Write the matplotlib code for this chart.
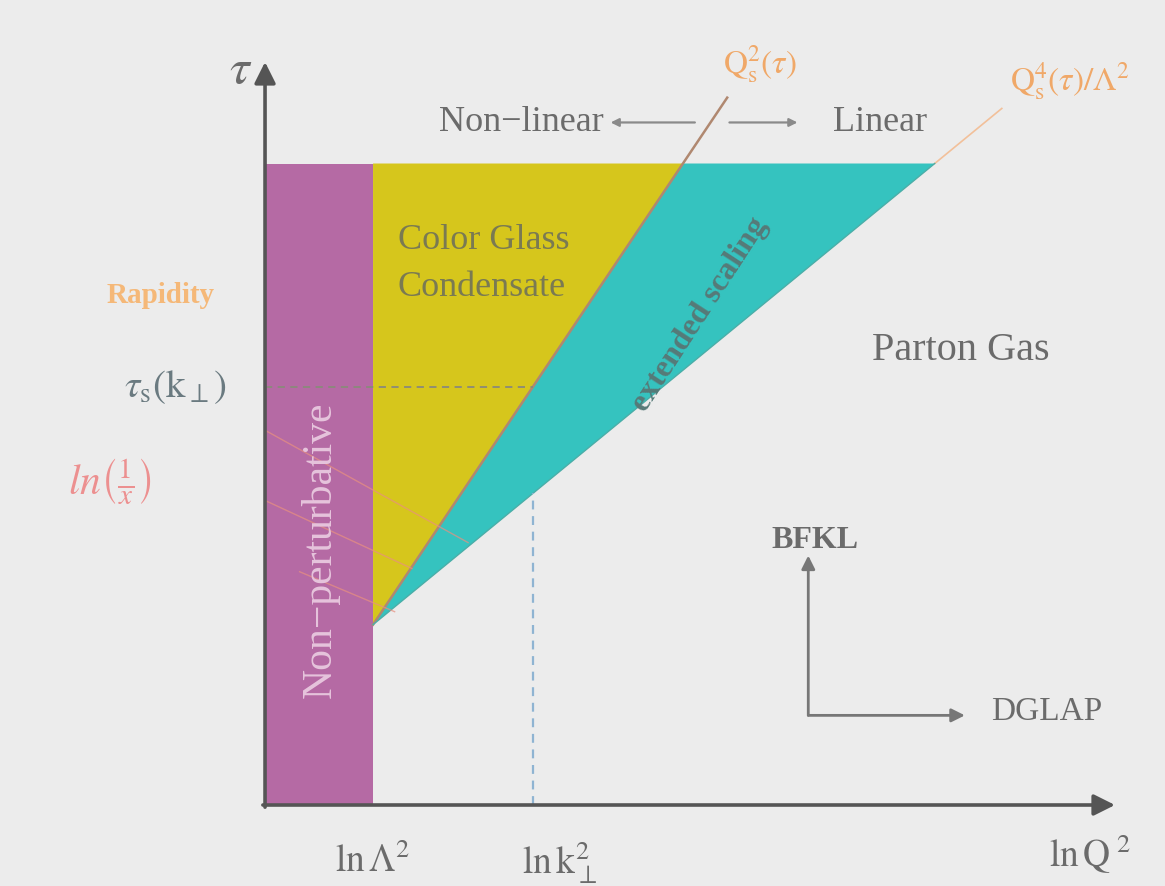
import numpy as np
import matplotlib
matplotlib.use("Agg")
import matplotlib.pyplot as plt
from matplotlib.patches import Polygon

plt.rcParams['font.family'] = ['Liberation Serif', 'DejaVu Serif']
plt.rcParams['mathtext.fontset'] = 'stix'

# diagram coordinates: x = ln Q^2, y = rapidity tau (arbitrary units)
LN_LAMBDA2 = 1.0        # ln Lambda^2
LN_K2 = 2.48            # ln k_perp^2
TAU0 = 1.67             # rapidity where saturation sets in
TAU_MAX = 5.94          # top of the shaded regions
SAT_SLOPE = 0.672       # d ln Q_s^2 / d tau
SCAL_SLOPE = 1.218      # d ln(Q_s^4/Lambda^2) / d tau
X_AXIS_END = 7.87
Y_AXIS_END = 6.88

BG = '#ececec'
PURPLE = '#b56aa4'
YELLOW = '#d6c61c'
CYAN = '#35c3bf'
AXIS = '#555555'
TEXT = '#6b6b6b'
ORANGE = '#f0a868'


def sat_line(tau):
    return LN_LAMBDA2 + SAT_SLOPE * (tau - TAU0)


def scal_line(tau):
    return LN_LAMBDA2 + SCAL_SLOPE * (tau - TAU0)


fig = plt.figure(figsize=(11.65, 8.86), dpi=100, facecolor=BG)
ax = fig.add_axes([0, 0, 1, 1])
ax.set_facecolor(BG)
ax.set_xlim(-2.454, 8.333)
ax.set_ylim(-0.75, 7.454)
ax.axis('off')

# non-perturbative band
ax.add_patch(Polygon([(0, 0), (LN_LAMBDA2, 0), (LN_LAMBDA2, TAU_MAX), (0, TAU_MAX)],
                     closed=True, facecolor=PURPLE, edgecolor='none', zorder=1))
# colour glass condensate
ax.add_patch(Polygon([(LN_LAMBDA2, TAU0), (sat_line(TAU_MAX), TAU_MAX), (LN_LAMBDA2, TAU_MAX)],
                     closed=True, facecolor=YELLOW, edgecolor='none', zorder=1))
# extended scaling window
ax.add_patch(Polygon([(LN_LAMBDA2, TAU0), (scal_line(TAU_MAX), TAU_MAX), (sat_line(TAU_MAX), TAU_MAX)],
                     closed=True, facecolor=CYAN, edgecolor='none', zorder=1))

# saturation scale and scaling boundary lines
t_sat = np.array([TAU0, 6.55])
ax.plot(sat_line(t_sat), t_sat, color='#b08870', lw=1.8, zorder=2)
t_sc = np.array([TAU_MAX, 6.45])
ax.plot(scal_line(t_sc), t_sc, color='#f2c09a', lw=1.2, zorder=2)
t_lo = np.array([TAU0, TAU_MAX])
ax.plot(scal_line(t_lo), t_lo, color='#4aaea8', lw=1.0, zorder=2)

# tau_s(k_perp) and ln k_perp^2 guides
tau_s = TAU0 + (LN_K2 - LN_LAMBDA2) / SAT_SLOPE
ax.plot([0, LN_K2], [tau_s, tau_s], ls=(0, (4, 3)), color='#8a8a7a', lw=1.3, zorder=2)
tau_k = TAU0 + (LN_K2 - LN_LAMBDA2) / SCAL_SLOPE
ax.plot([LN_K2, LN_K2], [0, tau_k], ls=(0, (4, 3)), color='#8fb4d2', lw=1.6, zorder=2)

# lines of constant x
for (x0, y0), (x1, y1) in [((0.0, 3.47), (1.88, 2.43)),
                           ((0.0, 2.82), (1.36, 2.19)),
                           ((0.32, 2.16), (1.20, 1.79))]:
    ax.plot([x0, x1], [y0, y1], color='#e89080', lw=1.0, alpha=0.7, zorder=2)

# axes
arrow = dict(arrowstyle='-|>', mutation_scale=32, lw=2.6, color=AXIS, shrinkA=0, shrinkB=0)
ax.annotate('', xy=(X_AXIS_END, 0), xytext=(-0.02, 0), arrowprops=arrow, zorder=3)
ax.annotate('', xy=(0, Y_AXIS_END), xytext=(0, -0.02), arrowprops=arrow, zorder=3)

# non-linear / linear arrows
small = dict(arrowstyle='-|>', mutation_scale=12, lw=1.6, color='#8a8a8a', shrinkA=0, shrinkB=0)
ax.annotate('', xy=(3.20, 6.32), xytext=(3.98, 6.32), arrowprops=small)
ax.annotate('', xy=(4.93, 6.32), xytext=(4.30, 6.32), arrowprops=small)
ax.text(3.14, 6.32, 'Non\u2212linear', ha='right', va='center', fontsize=26, color=TEXT)
ax.text(5.26, 6.32, 'Linear', ha='left', va='center', fontsize=26, color=TEXT)

# BFKL / DGLAP arrows
mid = dict(arrowstyle='-|>', mutation_scale=20, lw=2.0, color='#777777', shrinkA=0, shrinkB=0)
ax.annotate('', xy=(5.03, 2.31), xytext=(5.03, 0.83), arrowprops=mid)
ax.annotate('', xy=(6.48, 0.83), xytext=(5.03, 0.83), arrowprops=mid)
ax.text(5.09, 2.45, 'BFKL', ha='center', va='center', fontsize=23, color=TEXT, fontweight='bold')
ax.text(6.72, 0.86, 'DGLAP', ha='left', va='center', fontsize=24, color=TEXT)

# region labels
ax.text(1.23, 5.23, 'Color Glass', ha='left', va='center', fontsize=26, color='#7a7a52')
ax.text(1.23, 4.79, 'Condensate', ha='left', va='center', fontsize=26, color='#7a7a52')
ax.text(4.03, 4.54, 'extended scaling', ha='center', va='center', fontsize=23,
        color='#567a78', rotation=57, fontweight='bold')
ax.text(6.44, 4.21, 'Parton Gas', ha='center', va='center', fontsize=29, color=TEXT)
ax.text(0.51, 2.36, 'Non\u2212perturbative', ha='center', va='center', fontsize=30,
        color='#e6c4dc', rotation=90)

# curve labels
ax.text(4.58, 6.86, r'$\mathrm{Q}_{\mathrm{s}}^{2}(\tau)$', ha='center', va='center',
        fontsize=24, color=ORANGE)
ax.text(7.45, 6.70, r'$\mathrm{Q}_{\mathrm{s}}^{4}(\tau)/\Lambda^2$', ha='center', va='center',
        fontsize=24, color=ORANGE)

# axis labels
ax.text(-0.23, 6.80, r'$\tau$', ha='center', va='center', fontsize=36, color=TEXT)
ax.text(-0.97, 4.72, 'Rapidity', ha='center', va='center', fontsize=21, color='#f5b878',
        fontweight='bold')
ax.text(-0.83, 3.87, r'$\tau_{\mathrm{s}}(\mathrm{k}_{\perp})$', ha='center', va='center',
        fontsize=28, color='#6a7a80')
ax.text(-1.44, 3.00, r'$ln\left(\frac{1}{x}\right)$', ha='center', va='center', fontsize=30,
        color='#ec8080', alpha=0.85)
ax.text(LN_LAMBDA2, -0.53, r'$\mathrm{ln}\,\Lambda^2$', ha='center', va='center', fontsize=27, color=TEXT)
ax.text(2.73, -0.53, r'$\mathrm{ln}\,\mathrm{k}_{\perp}^{2}$', ha='center', va='center', fontsize=27, color=TEXT)
ax.text(7.64, -0.46, r'$\mathrm{ln}\,\mathrm{Q}^{\ 2}$', ha='center', va='center', fontsize=27, color=TEXT)

fig.savefig('out.png', dpi=100, facecolor=BG)
